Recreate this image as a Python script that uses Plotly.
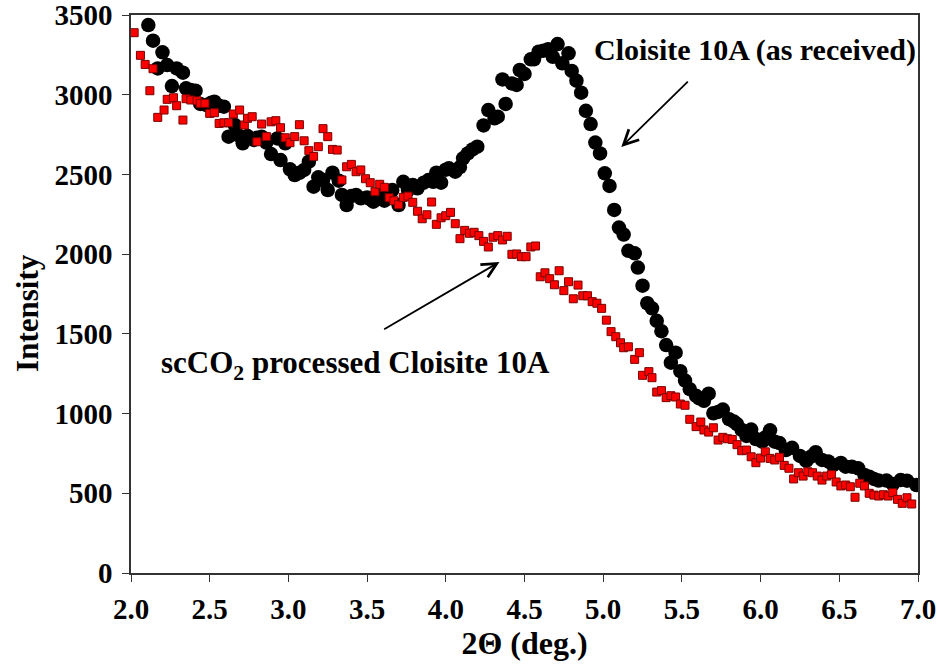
import plotly.graph_objects as go

# Cloisite 10A (as received) - black circles
x_recv = [2.11, 2.14, 2.17, 2.20, 2.23, 2.26, 2.29, 2.33, 2.35, 2.38, 2.41, 2.44, 2.48, 2.51, 2.53,
          2.56, 2.59, 2.62, 2.66, 2.68, 2.71, 2.74, 2.78, 2.80, 2.83, 2.86, 2.89, 2.93, 2.95, 2.98,
          3.01, 3.04, 3.07, 3.10, 3.13, 3.16, 3.19, 3.22, 3.25, 3.28, 3.32, 3.34, 3.37, 3.40, 3.43,
          3.46, 3.50, 3.52, 3.54, 3.58, 3.61, 3.63, 3.66, 3.70, 3.73, 3.76, 3.79, 3.82, 3.86, 3.89,
          3.92, 3.94, 3.97, 4.00, 4.02, 4.06, 4.09, 4.11, 4.14, 4.17, 4.20, 4.24, 4.27, 4.31, 4.33,
          4.36, 4.38, 4.42, 4.45, 4.47, 4.50, 4.54, 4.56, 4.59, 4.62, 4.65, 4.68, 4.71, 4.74, 4.78,
          4.80, 4.83, 4.86, 4.89, 4.92, 4.95, 4.98, 5.01, 5.04, 5.07, 5.10, 5.13, 5.16, 5.20, 5.22,
          5.25, 5.28, 5.31, 5.34, 5.37, 5.40, 5.43, 5.46, 5.49, 5.52, 5.55, 5.59, 5.61, 5.64, 5.67,
          5.70, 5.73, 5.76, 5.80, 5.83, 5.85, 5.88, 5.91, 5.94, 5.97, 6.01, 6.03, 6.06, 6.09, 6.12,
          6.16, 6.20, 6.25, 6.29, 6.32, 6.35, 6.39, 6.43, 6.46, 6.51, 6.54, 6.58, 6.62, 6.66, 6.69,
          6.72, 6.75, 6.80, 6.84, 6.89, 6.93, 6.99]
y_recv = [3437, 3339, 3165, 3266, 3186, 3054, 3165, 3138, 3040, 3030, 3025, 2942, 2935, 2950, 2956,
          2930, 2925, 2737, 2810, 2747, 2695, 2741, 2716, 2730, 2737, 2700, 2628, 2726, 2590, 2695,
          2532, 2496, 2510, 2528, 2580, 2423, 2482, 2465, 2402, 2511, 2461, 2371, 2308, 2364, 2371,
          2350, 2356, 2345, 2329, 2371, 2335, 2360, 2402, 2308, 2454, 2402, 2434, 2413, 2448, 2465,
          2454, 2511, 2448, 2530, 2538, 2517, 2546, 2601, 2632, 2657, 2674, 2807, 2904, 2852, 2862,
          3096, 2942, 3071, 3061, 3155, 3130, 3222, 3222, 3270, 3276, 3285, 3238, 3318, 3197, 3260,
          3149, 3088, 3013, 2899, 2816, 2700, 2632, 2507, 2428, 2277, 2167, 2123, 2021, 2005, 1916,
          1802, 1692, 1660, 1582, 1517, 1430, 1319, 1382, 1266, 1207, 1153, 1111, 1096, 1080, 1125,
          1002, 1010, 1025, 965, 950, 934, 897, 860, 900, 840, 824, 850, 895, 824, 815,
          771, 785, 734, 703, 730, 758, 709, 700, 677, 690, 667, 667, 657, 615, 604,
          590, 580, 580, 558, 583, 579, 552]

# scCO2 processed Cloisite 10A - red squares
x_proc = [2.02, 2.06, 2.09, 2.12, 2.14, 2.17, 2.21, 2.23, 2.27, 2.29, 2.33, 2.35, 2.38, 2.42, 2.44,
          2.47, 2.50, 2.53, 2.56, 2.59, 2.62, 2.65, 2.69, 2.72, 2.74, 2.77, 2.80, 2.83, 2.86, 2.89,
          2.92, 2.95, 2.98, 3.01, 3.04, 3.07, 3.10, 3.13, 3.16, 3.19, 3.22, 3.25, 3.28, 3.31, 3.34,
          3.37, 3.40, 3.43, 3.46, 3.49, 3.52, 3.55, 3.58, 3.61, 3.64, 3.67, 3.70, 3.73, 3.76, 3.79,
          3.82, 3.85, 3.88, 3.91, 3.94, 3.97, 4.00, 4.03, 4.06, 4.09, 4.12, 4.15, 4.18, 4.21, 4.24,
          4.27, 4.30, 4.33, 4.36, 4.39, 4.42, 4.45, 4.48, 4.51, 4.54, 4.57, 4.60, 4.63, 4.66, 4.69,
          4.72, 4.75, 4.78, 4.81, 4.84, 4.87, 4.90, 4.93, 4.96, 4.99, 5.02, 5.05, 5.08, 5.11, 5.13,
          5.16, 5.20, 5.23, 5.25, 5.29, 5.31, 5.34, 5.37, 5.40, 5.43, 5.46, 5.49, 5.52, 5.55, 5.59,
          5.62, 5.64, 5.67, 5.70, 5.73, 5.76, 5.79, 5.82, 5.85, 5.88, 5.91, 5.94, 5.97, 6.00, 6.03,
          6.06, 6.09, 6.12, 6.15, 6.18, 6.21, 6.24, 6.27, 6.30, 6.33, 6.36, 6.39, 6.42, 6.45, 6.48,
          6.51, 6.54, 6.57, 6.60, 6.63, 6.66, 6.69, 6.72, 6.75, 6.78, 6.81, 6.84, 6.87, 6.90, 6.93,
          6.96]
y_proc = [3389, 3247, 3190, 3025, 3163, 2858, 2904, 2971, 2981, 2931, 2841, 2975, 2967, 2962, 2946,
          2946, 2883, 2887, 2820, 2824, 2824, 2879, 2904, 2810, 2852, 2862, 2705, 2816, 2737, 2830,
          2837, 2793, 2730, 2699, 2737, 2812, 2711, 2649, 2613, 2674, 2787, 2737, 2657, 2653, 2465,
          2548, 2563, 2517, 2528, 2473, 2448, 2392, 2438, 2419, 2354, 2335, 2310, 2356, 2364, 2325,
          2269, 2222, 2247, 2327, 2187, 2228, 2241, 2262, 2191, 2097, 2149, 2131, 2137, 2116, 2080,
          2045, 2106, 2116, 2089, 2112, 1999, 2001, 1984, 1984, 2045, 2051, 1858, 1883, 1846, 1808,
          1896, 1771, 1827, 1720, 1806, 1739, 1739, 1702, 1692, 1660, 1586, 1514, 1482, 1444, 1413,
          1419, 1340, 1382, 1240, 1263, 1225, 1135, 1144, 1100, 1112, 1104, 1060, 1052, 964, 918,
          947, 897, 884, 911, 834, 851, 842, 838, 805, 767, 771, 729, 692, 721, 760,
          719, 709, 726, 675, 657, 590, 629, 608, 635, 629, 608, 583, 608, 617, 571,
          546, 552, 541, 475, 563, 546, 500, 489, 483, 491, 483, 504, 462, 437, 472,
          433]

x_ticks = [2.0, 2.5, 3.0, 3.5, 4.0, 4.5, 5.0, 5.5, 6.0, 6.5, 7.0]
y_ticks = [0, 500, 1000, 1500, 2000, 2500, 3000, 3500]

FONT = "Liberation Serif"

fig = go.Figure()
fig.add_trace(go.Scatter(
    x=x_recv, y=y_recv, mode="markers", name="Cloisite 10A (as received)",
    marker=dict(symbol="circle", size=14.5, color="black", line=dict(width=0)),
))
fig.add_trace(go.Scatter(
    x=x_proc, y=y_proc, mode="markers", name="scCO2 processed Cloisite 10A",
    marker=dict(symbol="square", size=8, color="#FF0000", line=dict(width=1, color="#7a0000")),
))

fig.add_annotation(x=5.115, y=2672, ax=5.547, ay=3092, xref="x", yref="y", axref="x", ayref="y",
                   text="", showarrow=True, arrowhead=5, arrowsize=1.6, arrowwidth=1.8, arrowcolor="black")
fig.add_annotation(x=4.341, y=1951, ax=3.599, ay=1524, xref="x", yref="y", axref="x", ayref="y",
                   text="", showarrow=True, arrowhead=5, arrowsize=1.6, arrowwidth=1.8, arrowcolor="black")
fig.add_annotation(x=5.966, y=3280, xref="x", yref="y", text="<b>Cloisite 10A (as received)</b>",
                   showarrow=False, font=dict(family=FONT, size=30, color="black"))
fig.add_annotation(x=3.428, y=1305, xref="x", yref="y", text="<b>scCO<sub>2</sub> processed Cloisite 10A</b>",
                   showarrow=False, font=dict(family=FONT, size=31, color="black"))
# y-axis title (placed slightly below the axis middle, as in the original)
fig.add_annotation(x=-0.131, y=0.466, xref="paper", yref="paper", text="<b>Intensity</b>",
                   textangle=-90, showarrow=False, xanchor="center", yanchor="middle",
                   font=dict(family=FONT, size=31, color="black"))

axis_common = dict(showline=True, linecolor="#333333", linewidth=1.5, mirror=True,
                   ticks="outside", ticklen=7, tickwidth=1.2, tickcolor="#333333",
                   showgrid=False, zeroline=False, ticklabeloverflow="allow", automargin=False,
                   tickfont=dict(family=FONT, size=29, color="black"))

fig.update_xaxes(range=[2, 7], tickvals=x_ticks, ticktext=[f"<b>{v:.1f}</b>" for v in x_ticks],
                 ticklabelstandoff=2,
                 title=dict(text="<b>2Θ (deg.)</b>", font=dict(family=FONT, size=32, color="black"), standoff=4),
                 **axis_common)
fig.update_yaxes(range=[0, 3500], tickvals=y_ticks, ticktext=[f"<b>{v}</b>" for v in y_ticks],
                 ticklabelstandoff=4, **axis_common)

fig.update_layout(width=938, height=668, margin=dict(l=131, r=20, t=15, b=95, autoexpand=False),
                  plot_bgcolor="white", paper_bgcolor="white", showlegend=False)

fig.write_html("out.html", config={"displayModeBar": False},
               post_script="document.body.style.margin='0';")
